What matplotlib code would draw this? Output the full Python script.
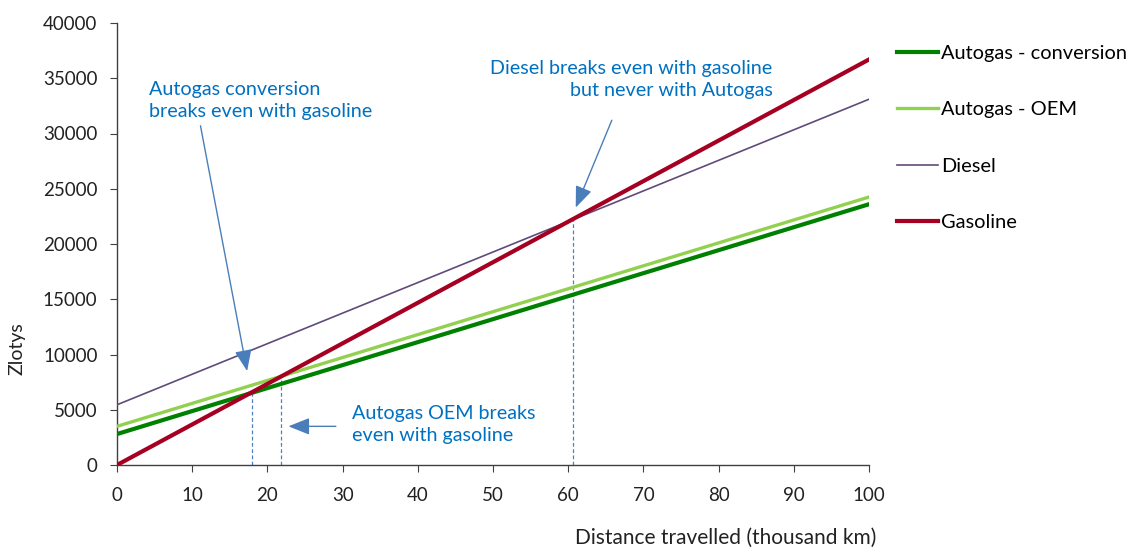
import numpy as np
import matplotlib
matplotlib.use("Agg")
import matplotlib.pyplot as plt

# data
distance = [0, 100]                      # thousand km
autogas_conversion = [2800, 23600]
autogas_oem = [3500, 24250]
diesel = [5450, 33100]
gasoline = [0, 36700]
series_names = ["Autogas - conversion", "Autogas - OEM", "Diesel", "Gasoline"]
breakeven_x = [18.0, 21.8, 60.6]         # where the other lines cross gasoline

plt.rcParams['font.family'] = ['Lato', 'DejaVu Sans']
plt.rcParams['font.size'] = 13

fig = plt.figure(figsize=(11.37, 5.48), dpi=100)
ax = fig.add_axes([117/1137, 83/548, 752/1137, 442/548])

ax.plot(distance, autogas_conversion, color="#008000", lw=3.0, label=series_names[0], zorder=3)
ax.plot(distance, autogas_oem, color="#92D050", lw=2.4, label=series_names[1], zorder=3)
ax.plot(distance, diesel, color="#604A7B", lw=1.2, label=series_names[2], zorder=3)
ax.plot(distance, gasoline, color="#A50021", lw=3.0, label=series_names[3], zorder=4)

# dashed drop lines at the break-even points
for bx in breakeven_x:
    by = np.interp(bx, distance, gasoline)
    ax.plot([bx, bx], [0, by], color="#4F81BD", lw=0.9, ls=(0, (3, 2)), zorder=2)

ax.set_xlim(0, 100)
ax.set_ylim(0, 40000)
ax.set_xticks(range(0, 101, 10))
ax.set_yticks(range(0, 40001, 5000))
ax.spines['top'].set_visible(False)
ax.spines['right'].set_visible(False)
for s in ['left', 'bottom']:
    ax.spines[s].set_color("#404040")
    ax.spines[s].set_linewidth(1.0)
ax.tick_params(direction='out', length=5, color="#404040", labelcolor="#222222", labelsize=13.5)
ax.tick_params(axis='y', pad=9)
ax.tick_params(axis='x', pad=11)

fig.text(17/1137, 1 - 349/548, "Zlotys", rotation=90, ha='center', va='center', color="#222222",
         fontsize=14)
fig.text(726/1137, 1 - 538/548, "Distance travelled (thousand km)", ha='center', va='center',
         color="#222222", fontsize=15)

ann_col = "#0070C0"
arr = dict(arrowstyle="-|>,head_width=0.4,head_length=1.0", color="#4A7EBB", lw=1.0, shrinkA=0, shrinkB=0)

ax.text(4.3, 33000, "Autogas conversion\nbreaks even with gasoline", color=ann_col, ha='left', va='center',
        linespacing=1.35, fontsize=14.2)
ax.annotate("", xy=(17.3, 8500), xytext=(11.1, 30700), arrowprops=arr)

ax.text(87.2, 34900, "Diesel breaks even with gasoline\nbut never with Autogas", color=ann_col, ha='right',
        va='center', linespacing=1.35, fontsize=14.2)
ax.annotate("", xy=(61.0, 23300), xytext=(65.8, 31200), arrowprops=arr)

ax.text(31.3, 3700, "Autogas OEM breaks\neven with gasoline", color=ann_col, ha='left', va='center',
        linespacing=1.35, fontsize=14.2)
ax.annotate("", xy=(22.8, 3500), xytext=(29.1, 3500), arrowprops=arr)

fig.legend(loc='upper left', bbox_to_anchor=(897/1137, 1 - 45/548), frameon=False, fontsize=14.4,
           handlelength=2.05, handletextpad=0.15, labelspacing=1.97, borderaxespad=0, borderpad=0)

fig.savefig("out.png", dpi=100)
